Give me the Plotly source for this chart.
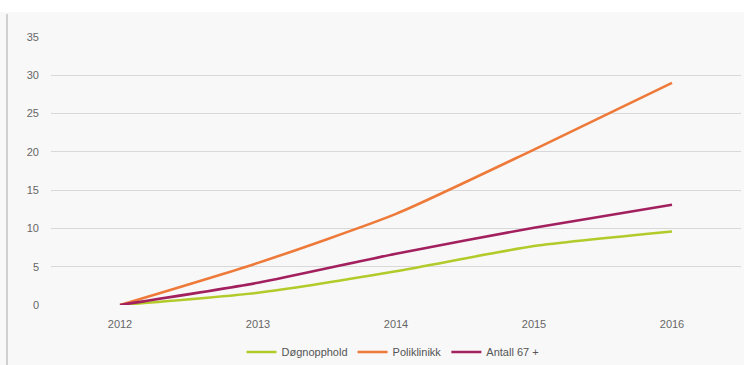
import plotly.graph_objects as go

years = ["2012", "2013", "2014", "2015", "2016"]
dognopphold = [0, 1.6, 4.4, 7.7, 9.6]
poliklinikk = [0, 5.5, 11.9, 20.3, 29.0]
antall_67 = [0, 2.9, 6.7, 10.1, 13.1]
y_ticks = [0, 5, 10, 15, 20, 25, 30, 35]

series = [
    ("Døgnopphold", dognopphold, "#b3cb2a"),
    ("Poliklinikk", poliklinikk, "#ee7a3a"),
    ("Antall 67 +", antall_67, "#a2205e"),
]

fig = go.Figure()
for name, vals, color in series:
    fig.add_trace(go.Scatter(
        x=years, y=vals, name=name, mode="lines",
        line=dict(color=color, width=2.6, shape="spline", smoothing=0.6),
        cliponaxis=False,
    ))

W, H = 744, 365
ml, mr, mt, mb = 51, 3, 37, 60
pw, ph = W - ml - mr, H - mt - mb

def px_x(x):
    return (x - ml) / pw

def px_y(y):
    return (H - mb - y) / ph

shapes = [
    # white strip above the panel
    dict(type="rect", xref="paper", yref="paper",
         x0=px_x(-5), x1=px_x(W + 5), y0=px_y(12), y1=px_y(-5),
         fillcolor="white", line=dict(width=0), layer="below"),
    # left frame edge
    dict(type="line", xref="paper", yref="paper",
         x0=px_x(7), x1=px_x(7), y0=px_y(14), y1=px_y(H + 5),
         line=dict(color="#d0d0d0", width=2), layer="below"),
]

fig.update_layout(
    width=W, height=H,
    margin=dict(l=ml, r=mr, t=mt, b=mb, autoexpand=False),
    paper_bgcolor="#f8f8f8",
    plot_bgcolor="#f8f8f8",
    font=dict(family="Liberation Sans, Arial, sans-serif", size=11, color="#666666"),
    showlegend=True,
    legend=dict(orientation="h", x=px_x(393), xanchor="center",
                y=px_y(352), yanchor="middle",
                font=dict(size=11, color="#555555"),
                itemwidth=30, bgcolor="rgba(0,0,0,0)"),
    shapes=shapes,
    xaxis=dict(type="category", range=[-0.5, 4.5], showgrid=False,
               zeroline=False, showline=False, ticks="", automargin=False,
               ticklabelstandoff=11,
               tickfont=dict(size=11, color="#666666")),
    yaxis=dict(range=[0, 35], tickvals=y_ticks, showgrid=True, automargin=False,
               gridcolor="#d8d8d8", gridwidth=1, zeroline=False, showline=False,
               ticks="", ticklabelstandoff=11,
               tickfont=dict(size=11, color="#666666")),
)

fig.write_html("out.html")
